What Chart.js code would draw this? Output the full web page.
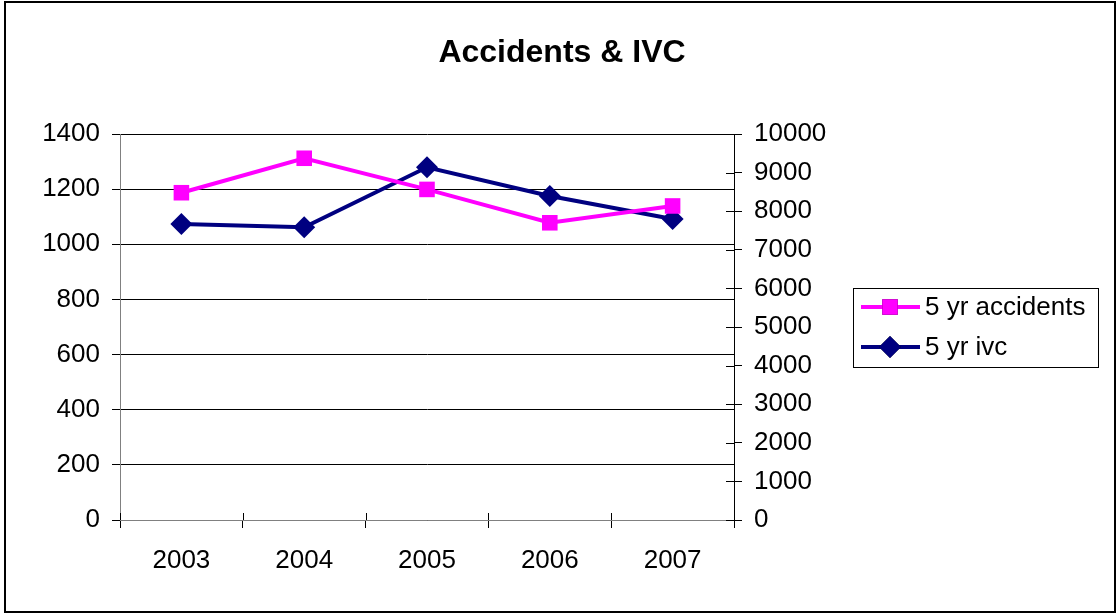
<!DOCTYPE html>
<html>
<head>
<meta charset="utf-8">
<script src="https://cdn.jsdelivr.net/npm/chart.js@4"></script>
<style>
  html, body { margin: 0; padding: 0; background: #fff; }
  canvas { display: block; }
</style>
</head>
<body>
<canvas id="chart" width="1117" height="615"></canvas>
<script>
// Chart data
const TITLE = 'Accidents & IVC';
const years = ['2003', '2004', '2005', '2006', '2007'];
const accidents = [1187, 1312, 1199, 1078, 1139];
const ivc = [7668, 7582, 9137, 8394, 7798];
const seriesLabels = ['5 yr accidents', '5 yr ivc'];
const seriesColors = ['#FF00FF', '#000080'];

const FONT = 'Arial, "Liberation Sans", sans-serif';
const plain = v => String(v);   // no thousands separators

// Outer frame + title + inward tick stubs + legend box
const decorPlugin = {
    id: 'decor',
    afterDraw(chart) {
        const ctx = chart.ctx;
        ctx.save();

        // outer border
        ctx.strokeStyle = '#000';
        ctx.lineWidth = 2;
        ctx.strokeRect(5, 2, 1110, 610);

        // title
        ctx.fillStyle = '#000';
        ctx.font = 'bold 32px ' + FONT;
        ctx.textAlign = 'center';
        ctx.textBaseline = 'middle';
        ctx.fillText(TITLE, 562, 53);

        // inward halves of the crossing tick marks
        const area = chart.chartArea;
        const y2 = chart.scales.y2;
        const x = chart.scales.x;
        ctx.strokeStyle = '#000';
        ctx.lineWidth = 1;
        ctx.beginPath();
        y2.ticks.forEach(t => {
            const py = Math.round(y2.getPixelForValue(t.value)) + 0.5;
            ctx.moveTo(area.right - 8, py);
            ctx.lineTo(area.right, py);
        });
        for (let i = 0; i <= years.length; i++) {
            const px = Math.round(x.getPixelForValue(i - 0.5)) + 0.5;
            ctx.moveTo(px, area.bottom - 7);
            ctx.lineTo(px, area.bottom);
        }
        ctx.stroke();

        // legend
        ctx.lineWidth = 1;
        ctx.strokeStyle = '#000';
        ctx.strokeRect(853.5, 288.5, 245, 79);
        const rows = [307, 347];
        chart.data.datasets.forEach((ds, i) => {
            const ly = rows[i];
            ctx.strokeStyle = ds.borderColor;
            ctx.lineWidth = 4;
            ctx.beginPath();
            ctx.moveTo(861, ly);
            ctx.lineTo(920, ly);
            ctx.stroke();
            Chart.helpers.drawPoint(ctx, {
                pointStyle: ds.pointStyle,
                radius: ds.pointRadius,
                borderWidth: 0
            }, 890, ly);
            ctx.fillStyle = ds.borderColor;
            ctx.fill();
            ctx.fillStyle = '#000';
            ctx.font = '26px ' + FONT;
            ctx.textAlign = 'left';
            ctx.textBaseline = 'middle';
            ctx.fillText(ds.label, 925, ly + 1);
        });

        ctx.restore();
    }
};

new Chart(document.getElementById('chart'), {
    type: 'line',
    data: {
        labels: years,
        datasets: [
            {
                label: seriesLabels[0],
                data: accidents,
                yAxisID: 'y',
                borderColor: seriesColors[0],
                backgroundColor: seriesColors[0],
                borderWidth: 4,
                pointStyle: 'rect',
                pointRadius: 11,
                pointBorderWidth: 0,
                tension: 0
            },
            {
                label: seriesLabels[1],
                data: ivc,
                yAxisID: 'y2',
                borderColor: seriesColors[1],
                backgroundColor: seriesColors[1],
                borderWidth: 4,
                pointStyle: 'rectRot',
                pointRadius: 11,
                pointBorderWidth: 0,
                tension: 0
            }
        ]
    },
    options: {
        responsive: false,
        animation: false,
        devicePixelRatio: 1,
        layout: { padding: { top: 134, left: 0, right: 0, bottom: 0 } },
        plugins: {
            legend: { display: false },
            title: { display: false },
            tooltip: { enabled: false }
        },
        scales: {
            x: {
                offset: true,
                grid: {
                    offset: true,
                    drawOnChartArea: false,
                    tickLength: 8,
                    color: '#000'
                },
                border: { color: '#808080', width: 1 },
                ticks: {
                    color: '#000',
                    font: { family: FONT, size: 26 },
                    padding: 17,
                    maxRotation: 0
                },
                afterFit: s => { s.height = 95; }
            },
            y: {
                position: 'left',
                min: 0,
                max: 1400,
                ticks: {
                    stepSize: 200,
                    callback: plain,
                    color: '#000',
                    font: { family: FONT, size: 26 },
                    padding: 12
                },
                grid: { color: '#000', tickLength: 8 },
                border: { color: '#808080', width: 1 },
                afterFit: s => { s.width = 120; }
            },
            y2: {
                position: 'right',
                min: 0,
                max: 10000,
                ticks: {
                    stepSize: 1000,
                    callback: plain,
                    color: '#000',
                    font: { family: FONT, size: 26 },
                    padding: 12
                },
                grid: { drawOnChartArea: false, color: '#000', tickLength: 8 },
                border: { color: '#000', width: 1 },
                afterFit: s => { s.width = 383; }
            }
        }
    },
    plugins: [decorPlugin]
});
</script>
</body>
</html>
